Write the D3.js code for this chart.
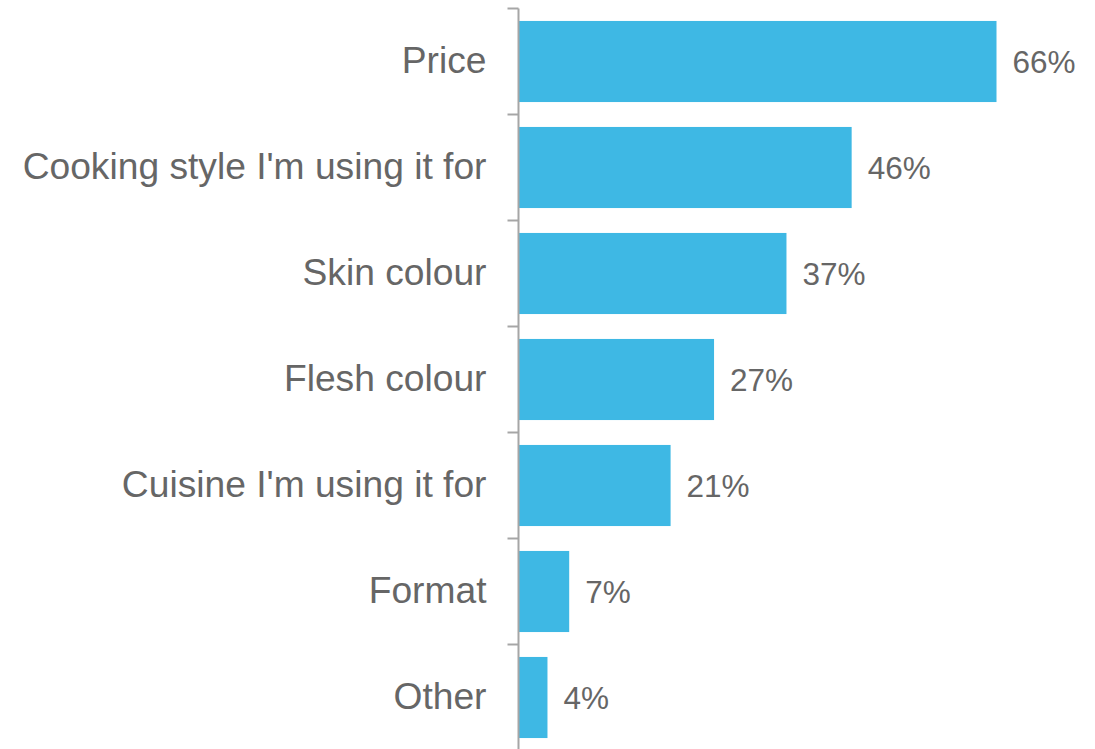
<!DOCTYPE html>
<html>
<head>
<meta charset="utf-8">
<script src="https://cdn.jsdelivr.net/npm/d3@7"></script>
<style>
  html, body { margin: 0; padding: 0; background: #fff; }
  #svg-container { width: 1095px; height: 749px; }
  .label { font-family: "Liberation Sans", Arial, sans-serif; font-size: 37.2px; fill: #666; }
  .value { font-family: "Liberation Sans", Arial, sans-serif; font-size: 31.5px; fill: #666; }
</style>
</head>
<body>
<div id="svg-container"></div>
<script>
// data
const categories = ["Price", "Cooking style I'm using it for", "Skin colour", "Flesh colour", "Cuisine I'm using it for", "Format", "Other"];
const values = [66, 46, 37, 27, 21, 7, 4];
const data = categories.map((c, i) => ({ cat: c, val: values[i] }));

const width = 1095, height = 749;
const margin = { top: 8.5, left: 518.5 };

const svg = d3.select("#svg-container").append("svg")
  .attr("width", width).attr("height", height);

// scales
const yScale = d3.scaleBand()
  .domain(categories)
  .range([margin.top, margin.top + 106 * categories.length])
  .paddingInner(0.235)
  .paddingOuter(0.1175);

const xScale = d3.scaleLinear()
  .domain([0, 66])
  .range([margin.left, 996.5]);

// bars
svg.selectAll(".bar")
  .data(data)
  .enter()
  .append("rect")
  .attr("class", "bar")
  .attr("x", xScale(0))
  .attr("y", (d) => yScale(d.cat))
  .attr("width", (d) => xScale(d.val) - xScale(0))
  .attr("height", yScale.bandwidth())
  .attr("fill", "#3eb8e4");

// axis
const yAxis = d3.axisLeft(yScale).tickSize(0).tickPadding(32);
const gAxis = svg.append("g")
  .attr("transform", `translate(${margin.left},0)`)
  .call(yAxis);
gAxis.select(".domain").remove();
gAxis.selectAll("text").attr("class", "label").attr("fill", null);

// axis line + band boundary ticks
const bounds = d3.range(categories.length + 1).map((i) => margin.top + 106 * i);
svg.append("line")
  .attr("x1", margin.left).attr("x2", margin.left)
  .attr("y1", bounds[0]).attr("y2", bounds[bounds.length - 1])
  .attr("stroke", "#a6a6a6").attr("stroke-width", 2);
svg.selectAll(".btick")
  .data(bounds)
  .enter()
  .append("line")
  .attr("x1", margin.left - 11).attr("x2", margin.left)
  .attr("y1", (d) => d).attr("y2", (d) => d)
  .attr("stroke", "#a6a6a6").attr("stroke-width", 2);

// value labels
svg.selectAll(".value")
  .data(data)
  .enter()
  .append("text")
  .attr("class", "value")
  .attr("x", (d) => xScale(d.val) + 16)
  .attr("y", (d) => yScale(d.cat) + yScale.bandwidth() / 2)
  .attr("dy", "0.35em")
  .text((d) => d.val + "%");
</script>
</body>
</html>
